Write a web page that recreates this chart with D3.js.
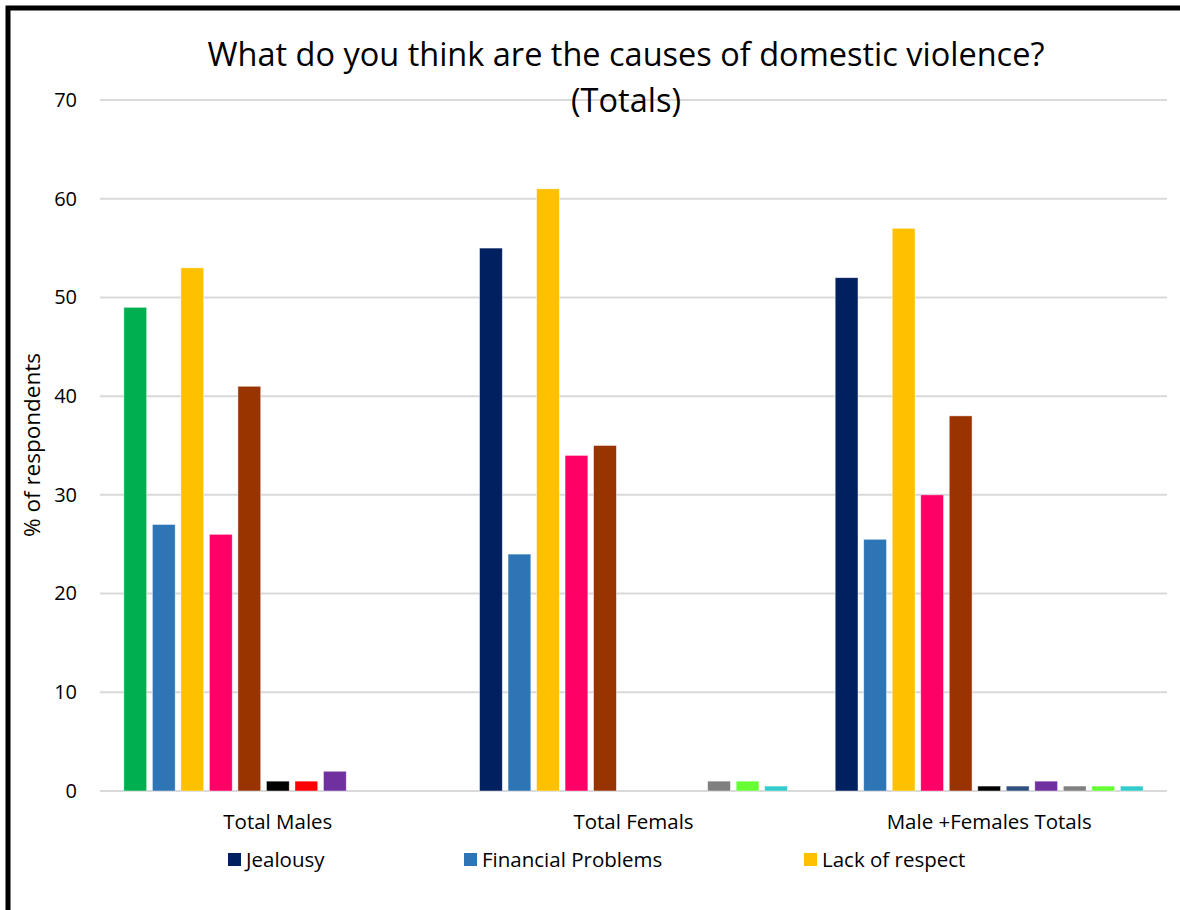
<!DOCTYPE html>
<html>
<head>
<meta charset="utf-8">
<script src="https://cdn.jsdelivr.net/npm/d3@7"></script>
<style>
  html, body { margin: 0; padding: 0; background: #fff; }
  svg { display: block; font-family: "Open Sans", "Noto Sans", sans-serif; }
</style>
</head>
<body>
<svg id="chart" width="1180" height="910"></svg>
<script>
// ---- data ----
const categories = ["Total Males", "Total Femals", "Male +Females Totals"];
const seriesNames = ["Jealousy", "Financial Problems", "Lack of respect", "Series 4", "Series 5",
  "Series 6", "Series 7", "Series 8", "Series 9", "Series 10", "Series 11"];
const seriesColors = ["#002060", "#2E75B6", "#FFC000", "#FF0066", "#993300",
  "#000000", "#2F4F7F", "#7030A0", "#7F7F7F", "#66FF33", "#33CCCC"];
const valuesMales   = [49, 27, 53, 26, 41, 1, 1, 2, 0, 0, 0];
const valuesFemales = [55, 24, 61, 34, 35, 0, 0, 0, 1, 1, 0.5];
const valuesTotals  = [52, 25.5, 57, 30, 38, 0.5, 0.5, 1, 0.5, 0.5, 0.5];
// point-level colour overrides in the "Total Males" group
const malesPointColors = {0: "#00B050", 6: "#FF0000"};
const yTicks = [0, 10, 20, 30, 40, 50, 60, 70];
const legendShown = ["Jealousy", "Financial Problems", "Lack of respect"];
const titleLines = ["What do you think are the causes of domestic violence?", "(Totals)"];
const yLabel = "% of respondents";

const groupValues = [valuesMales, valuesFemales, valuesTotals];

// ---- layout ----
(function () {
const svg = d3.select("#chart");
const mLeft = 100, mRight = 1167, mTop = 100, mBottom = 791;

// frame
svg.append("rect").attr("x", 8).attr("y", 8).attr("width", 1200).attr("height", 1000)
  .attr("fill", "#fff").attr("stroke", "#000").attr("stroke-width", 5);

const x0 = d3.scaleBand().domain(categories).range([mLeft, mRight]).paddingInner(0).paddingOuter(0);
const x1 = d3.scaleBand().domain(d3.range(seriesNames.length))
  .range([21, x0.bandwidth() - 21]).paddingInner(0.2).paddingOuter(0.1);
const y = d3.scaleLinear().domain([0, 70]).range([mBottom, mTop]);

// gridlines
svg.append("g").selectAll("line").data(yTicks).join("line")
  .attr("x1", mLeft).attr("x2", mRight)
  .attr("y1", d => y(d)).attr("y2", d => y(d))
  .attr("stroke", "#D9D9D9").attr("stroke-width", 2);

// y axis labels
const yAxis = d3.axisLeft(y).tickValues(yTicks).tickSize(0).tickPadding(0);
const gy = svg.append("g").attr("transform", `translate(77,0)`).call(yAxis);
gy.select(".domain").remove();
gy.selectAll("text").attr("font-size", 20).attr("fill", "#000")
  .attr("font-family", "'Open Sans', sans-serif");

// bars
const groups = svg.append("g").selectAll("g").data(categories).join("g")
  .attr("transform", d => `translate(${x0(d)},0)`);
groups.selectAll("rect")
  .data((c, gi) => groupValues[gi].map((v, si) => ({v, si, gi})))
  .join("rect")
  .attr("x", d => x1(d.si))
  .attr("width", x1.bandwidth())
  .attr("y", d => y(d.v))
  .attr("height", d => y(0) - y(d.v))
  .attr("fill", d => (d.gi === 0 && malesPointColors[d.si]) ? malesPointColors[d.si] : seriesColors[d.si])
  .attr("stroke", "#fff").attr("stroke-opacity", 0.6).attr("stroke-width", 0.75);

// x axis labels
const xAxis = d3.axisBottom(x0).tickSize(0).tickPadding(0);
const gx = svg.append("g").attr("transform", `translate(0,814)`).call(xAxis);
gx.select(".domain").remove();
gx.selectAll("text").attr("font-size", 20.5).attr("fill", "#000")
  .attr("font-family", "'Open Sans', sans-serif").attr("dy", "0.71em");

// title
svg.append("g").selectAll("text").data(titleLines).join("text")
  .attr("x", 626).attr("y", (d, i) => 66 + i * 46)
  .attr("text-anchor", "middle").attr("font-size", 32.5).attr("fill", "#000")
  .text(d => d);

// y label
svg.append("text").attr("transform", "translate(40,445) rotate(-90)")
  .attr("text-anchor", "middle").attr("font-size", 22.5).attr("fill", "#000").text(yLabel);

// legend
const legendX = [228, 464, 804];
const leg = svg.append("g").selectAll("g").data(legendShown).join("g")
  .attr("transform", (d, i) => `translate(${legendX[i]},853)`);
leg.append("rect").attr("width", 13).attr("height", 13)
  .attr("fill", d => seriesColors[seriesNames.indexOf(d)]);
leg.append("text").attr("x", 18).attr("y", 7).attr("dy", "0.35em")
  .attr("font-size", 20.5).attr("fill", "#000").text(d => d);
})();
</script>
</body>
</html>
